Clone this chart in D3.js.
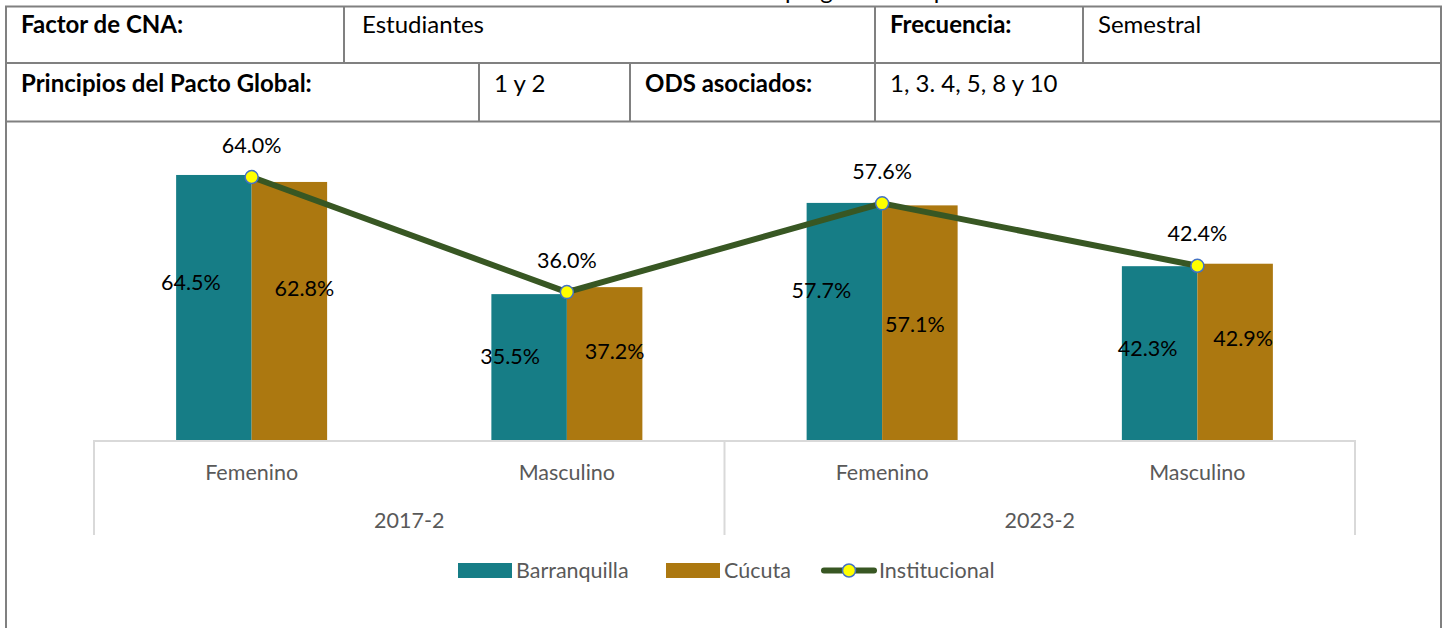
<!DOCTYPE html>
<html>
<head>
<meta charset="utf-8">
<script src="https://cdn.jsdelivr.net/npm/d3@7"></script>
<style>
  html, body { margin: 0; padding: 0; background: #fff; }
  svg { display: block; font-family: Lato, "Noto Sans", sans-serif; }
</style>
</head>
<body>
<svg width="1447" height="628"></svg>
<script>
// data
var periods = ['2017-2', '2023-2'];
var sexes = ['Femenino', 'Masculino'];
var series = ['Barranquilla', 'Cúcuta'];
var barranquilla = [64.5, 35.5, 57.7, 42.3];
var cucuta = [62.8, 37.2, 57.1, 42.9];
var institucional = [64.0, 36.0, 57.6, 42.4];

var colors = { 'Barranquilla': '#167d86', 'Cúcuta': '#ac7810' },
    lineColor = '#385723',
    borderColor = '#808080',
    axisColor = '#d9d9d9',
    labelGray = '#595959';

// manual label nudges (px) from bar centre / bar top, like in the source chart
var barLabelNudge = {
    'Barranquilla': [[-23, 108], [-19, 62], [-23, 88], [-12, 82]],
    'Cúcuta': [[15, 107], [10, 64], [-5, 119], [8, 75]]
};

var svg = d3.select('svg');

// ---- header table ----
var T = svg.append('g').attr('class', 'table');
// cut off title above the table
T.append('text').attr('x', 785).attr('y', -1.5).attr('text-anchor', 'end')
    .style('font-size', '24px').text('Distribución de estudiantes matriculados en los ');
T.append('text').attr('x', 785).attr('y', -1.5)
    .style('font-size', '24px').text('programas de primer semestre');

var hLines = [[5, 1442, 6.5], [5, 1442, 63], [5, 1442, 121.5]];
hLines.forEach(function (l) {
    T.append('line').attr('x1', l[0]).attr('x2', l[1]).attr('y1', l[2]).attr('y2', l[2])
        .attr('stroke', borderColor).attr('stroke-width', 2);
});
var vLines = [[6, 6, 640], [1441, 6, 640], [344, 6, 63], [875, 6, 63], [1083, 6, 63],
    [479, 63, 122], [630, 63, 122], [875, 63, 122]];
vLines.forEach(function (l) {
    T.append('line').attr('x1', l[0]).attr('x2', l[0]).attr('y1', l[1]).attr('y2', l[2])
        .attr('stroke', borderColor).attr('stroke-width', 2);
});
var cells = [
    { x: 21, y: 33, t: 'Factor de CNA:', b: true },
    { x: 362, y: 33, t: 'Estudiantes' },
    { x: 890, y: 33, t: 'Frecuencia:', b: true },
    { x: 1098, y: 33, t: 'Semestral' },
    { x: 21, y: 92, t: 'Principios del Pacto Global:', b: true },
    { x: 494, y: 92, t: '1 y 2' },
    { x: 645, y: 92, t: 'ODS asociados:', b: true },
    { x: 890, y: 92, t: '1, 3. 4, 5, 8 y 10' }
];
T.selectAll('text.cell').data(cells).enter().append('text')
    .attr('class', 'cell')
    .attr('x', d => d.x).attr('y', d => d.y)
    .style('font-size', '24px')
    .style('font-weight', d => d.b ? 700 : 400)
    .attr('fill', '#000')
    .text(d => d.t);

// ---- chart ----
var x0 = 94, x1 = 1355, baseY = 440;
var cats = [];
periods.forEach(p => sexes.forEach(s => cats.push(p + '|' + s)));

var xPeriod = d3.scaleBand().domain(periods).range([x0, x1]);
var xCat = d3.scaleBand().domain(cats).range([x0, x1]);
var xSeries = d3.scaleBand().domain(series).range([-75.5, 75.5]);
var yScale = d3.scaleLinear().domain([0, 70]).range([baseY, baseY - 70 * 4.109]);

var chart = svg.append('g').attr('class', 'chart');

var rows = cats.map((c, i) => ({ cat: c, 'Barranquilla': barranquilla[i], 'Cúcuta': cucuta[i], inst: institucional[i], i: i }));

var catG = chart.selectAll('.cat').data(rows).enter().append('g')
    .attr('class', 'cat')
    .attr('transform', d => `translate(${xCat(d.cat) + xCat.bandwidth() / 2},0)`);

series.forEach(function (s) {
    catG.append('rect')
        .attr('x', xSeries(s))
        .attr('y', d => yScale(d[s]))
        .attr('width', xSeries.bandwidth())
        .attr('height', d => baseY - yScale(d[s]))
        .attr('fill', colors[s]);
});

// axis line + separators
chart.append('line').attr('x1', x0).attr('x2', x1).attr('y1', baseY + 1).attr('y2', baseY + 1)
    .attr('stroke', axisColor).attr('stroke-width', 2);
var seps = periods.map(p => xPeriod(p)).concat([x1]);
chart.selectAll('.sep').data(seps).enter().append('line')
    .attr('class', 'sep')
    .attr('x1', d => d).attr('x2', d => d)
    .attr('y1', baseY).attr('y2', 535)
    .attr('stroke', axisColor).attr('stroke-width', 2);

// category labels via axis
var xAxis = d3.axisBottom(xCat).tickSize(0).tickPadding(0).tickFormat(d => d.split('|')[1]);
var axG = chart.append('g').attr('transform', `translate(0,${baseY})`).call(xAxis);
axG.select('.domain').remove();
axG.selectAll('text').attr('y', 32).attr('dy', '0.35em')
    .style('font-size', '21.5px').style('font-family', 'Lato, sans-serif').attr('fill', labelGray);

var pAxis = d3.axisBottom(xPeriod).tickSize(0).tickPadding(0);
var pG = chart.append('g').attr('transform', `translate(0,${baseY})`).call(pAxis);
pG.select('.domain').remove();
pG.selectAll('text').attr('y', 80).attr('dy', '0.35em')
    .style('font-size', '21.5px').style('font-family', 'Lato, sans-serif').attr('fill', labelGray);

// line series
var cx = d => xCat(d.cat) + xCat.bandwidth() / 2;
var line = d3.line().x(cx).y(d => yScale(d.inst));
chart.append('path').datum(rows)
    .attr('d', line)
    .attr('fill', 'none')
    .attr('stroke', lineColor)
    .attr('stroke-width', 6)
    .attr('stroke-linejoin', 'round');
chart.selectAll('.pt').data(rows).enter().append('circle')
    .attr('class', 'pt')
    .attr('cx', cx).attr('cy', d => yScale(d.inst)).attr('r', 6.5)
    .attr('fill', '#ffff00').attr('stroke', '#4472c4').attr('stroke-width', 1.5);

// data labels
series.forEach(function (s) {
    catG.append('text')
        .attr('x', d => xSeries(s) + xSeries.bandwidth() / 2 + barLabelNudge[s][d.i][0])
        .attr('y', d => yScale(d[s]) + barLabelNudge[s][d.i][1])
        .attr('dy', '0.35em')
        .attr('text-anchor', 'middle')
        .style('font-size', '21.5px')
        .attr('fill', '#000')
        .text(d => d[s].toFixed(1) + '%');
});
chart.selectAll('.ptl').data(rows).enter().append('text')
    .attr('class', 'ptl')
    .attr('x', cx).attr('y', d => yScale(d.inst) - 32)
    .attr('dy', '0.35em')
    .attr('text-anchor', 'middle')
    .style('font-size', '21.5px')
    .attr('fill', '#000')
    .text(d => d.inst.toFixed(1) + '%');

// legend
var legend = svg.append('g').attr('class', 'legend');
var legItems = [
    { name: 'Barranquilla', x: 458, type: 'bar' },
    { name: 'Cúcuta', x: 666, type: 'bar' },
    { name: 'Institucional', x: 821, type: 'line' }
];
legItems.forEach(function (it) {
    if (it.type === 'bar') {
        legend.append('rect').attr('x', it.x).attr('y', 563).attr('width', 54).attr('height', 15)
            .attr('fill', colors[it.name]);
    } else {
        legend.append('line').attr('x1', it.x + 3).attr('x2', it.x + 53).attr('y1', 570.5).attr('y2', 570.5)
            .attr('stroke', lineColor).attr('stroke-width', 6).attr('stroke-linecap', 'round');
        legend.append('circle').attr('cx', it.x + 28).attr('cy', 570.5).attr('r', 6.5)
            .attr('fill', '#ffff00').attr('stroke', '#4472c4').attr('stroke-width', 1.5);
    }
    legend.append('text').attr('x', it.x + 58).attr('y', 570.5).attr('dy', '0.35em')
        .style('font-size', '21.5px').attr('fill', labelGray).text(it.name);
});
</script>
</body>
</html>
